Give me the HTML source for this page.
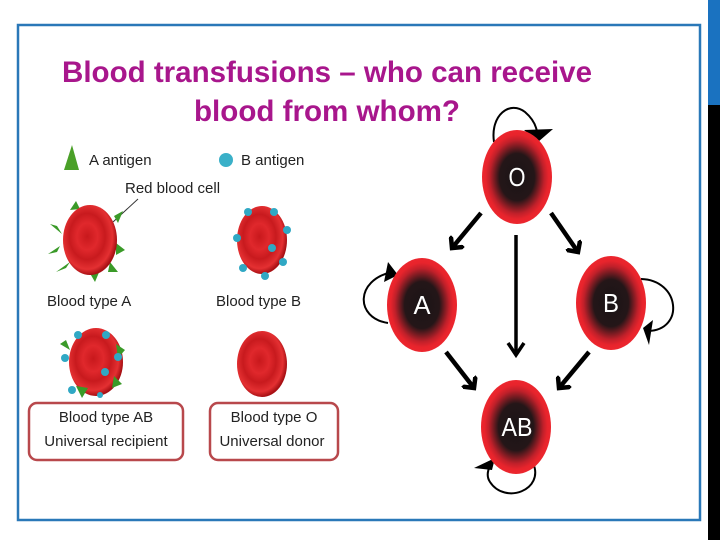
<!DOCTYPE html>
<html><head><meta charset="utf-8"><style>
body{margin:0;width:720px;height:540px;background:#fff;overflow:hidden;font-family:"Liberation Sans",sans-serif}
</style></head><body>
<svg width="720" height="540" viewBox="0 0 720 540" xmlns="http://www.w3.org/2000/svg">
<defs>
<radialGradient id="n" cx="50%" cy="50%" r="50%">
<stop offset="0" stop-color="#1a1416"/><stop offset="0.5" stop-color="#241618"/><stop offset="0.78" stop-color="#c0202a"/><stop offset="0.9" stop-color="#e8242c"/><stop offset="1" stop-color="#ec262e"/>
</radialGradient>
<radialGradient id="c" cx="45%" cy="45%" r="55%">
<stop offset="0" stop-color="#c8181c"/><stop offset="0.35" stop-color="#e0282c"/><stop offset="0.6" stop-color="#c81a1e"/><stop offset="0.85" stop-color="#e43032"/><stop offset="1" stop-color="#a81014"/>
</radialGradient>
<marker id="ah" markerWidth="4" markerHeight="4" refX="2" refY="2" orient="auto" markerUnits="strokeWidth">
<path d="M0,0 L2,2 L0,4" fill="none" stroke="#000" stroke-width="1"/>
</marker>
</defs>
<rect x="708" y="0" width="12" height="105" fill="#1a72c0"/>
<rect x="708" y="105" width="12" height="435" fill="#000"/>
<rect x="18" y="25" width="682" height="495" fill="#fff" stroke="#2a78b8" stroke-width="2.5"/>
<text x="327" y="82" text-anchor="middle" font-size="30" font-weight="bold" fill="#a8168c" textLength="530" lengthAdjust="spacingAndGlyphs">Blood transfusions – who can receive</text>
<text x="327" y="121" text-anchor="middle" font-size="30" font-weight="bold" fill="#a8168c" textLength="266" lengthAdjust="spacingAndGlyphs">blood from whom?</text>
<!-- legend -->
<polygon points="72,145 64,170 79,170" fill="#4aa028"/>
<text x="89" y="165" font-size="15" fill="#222">A antigen</text>
<circle cx="226" cy="160" r="7" fill="#3ab0c8"/>
<text x="241" y="165" font-size="15" fill="#222">B antigen</text>
<text x="125" y="193" font-size="15" fill="#222">Red blood cell</text>
<line x1="138" y1="199" x2="113" y2="222" stroke="#333" stroke-width="1"/>
<!-- cell A -->
<g fill="#3a9a28">
<polygon points="76,201 70,210 80,209"/><polygon points="123,211 114,216 118,223"/><polygon points="125,250 116,243 116,255"/><polygon points="118,272 110,262 108,272"/><polygon points="95,282 88,270 100,270"/><polygon points="66,268 56,272 70,262"/><polygon points="57,226 50,224 62,234"/><polygon points="57,252 48,254 60,246"/>
</g>
<ellipse cx="90" cy="240" rx="27" ry="35" fill="url(#c)"/>
<text x="47" y="306" font-size="15" fill="#222">Blood type A</text>
<!-- cell B -->
<ellipse cx="262" cy="240" rx="25" ry="34" fill="url(#c)"/>
<g fill="#30a8c4"><circle cx="274" cy="212" r="4"/><circle cx="287" cy="230" r="4"/><circle cx="272" cy="248" r="4"/><circle cx="283" cy="262" r="4"/><circle cx="265" cy="276" r="4"/><circle cx="243" cy="268" r="4"/><circle cx="237" cy="238" r="4"/><circle cx="248" cy="212" r="4"/></g>
<text x="216" y="306" font-size="15" fill="#222">Blood type B</text>
<!-- cell AB -->
<ellipse cx="96" cy="362" rx="27" ry="34" fill="url(#c)"/>
<g fill="#3a9a28"><polygon points="125,350 116,344 118,358"/><polygon points="122,384 114,376 112,388"/><polygon points="82,398 76,386 88,388"/><polygon points="66,340 60,344 70,350"/></g>
<g fill="#30a8c4"><circle cx="106" cy="335" r="4"/><circle cx="118" cy="357" r="4"/><circle cx="105" cy="372" r="4"/><circle cx="72" cy="390" r="4"/><circle cx="65" cy="358" r="4"/><circle cx="78" cy="335" r="4"/><circle cx="100" cy="395" r="3"/></g>
<!-- cell O -->
<ellipse cx="262" cy="364" rx="25" ry="33" fill="url(#c)"/>
<!-- boxes -->
<rect x="29" y="403" width="154" height="57" rx="8" fill="#fff" stroke="#b8484c" stroke-width="2.5"/>
<text x="106" y="422" text-anchor="middle" font-size="15" fill="#222">Blood type AB</text>
<text x="106" y="446" text-anchor="middle" font-size="15" fill="#222">Universal recipient</text>
<rect x="210" y="403" width="128" height="57" rx="8" fill="#fff" stroke="#b8484c" stroke-width="2.5"/>
<text x="274" y="422" text-anchor="middle" font-size="15" fill="#222">Blood type O</text>
<text x="272" y="446" text-anchor="middle" font-size="15" fill="#222">Universal donor</text>
<!-- arrows -->
<g stroke="#000" stroke-width="4.5" fill="none">
<line x1="481" y1="213" x2="452" y2="248" marker-end="url(#ah)"/>
<line x1="551" y1="213" x2="578" y2="252" marker-end="url(#ah)"/>
<line x1="446" y1="352" x2="474" y2="388" marker-end="url(#ah)"/>
<line x1="589" y1="352" x2="559" y2="388" marker-end="url(#ah)"/>
</g>
<line x1="516" y1="235" x2="516" y2="352" stroke="#000" stroke-width="3.5"/>
<path d="M508,343 L516,355 L524,343" fill="none" stroke="#000" stroke-width="3.5"/>
<g stroke="#000" stroke-width="2" fill="none">
<path d="M494,142 C490,115 510,100 525,112 C532,118 536,125 537,132"/>
<path d="M388,323 C355,318 355,280 392,272"/>
<path d="M641,279 C680,280 685,330 648,331"/>
<path d="M533,463 C545,490 505,505 490,482 C486,476 488,470 490,466"/>
</g>
<polygon points="524,130 553,129 538,142" fill="#000"/>
<polygon points="384,282 388,262 398,275" fill="#000"/>
<polygon points="643,328 653,320 649,345" fill="#000"/>
<polygon points="474,468 495,458 492,470" fill="#000"/>
<!-- nodes -->
<ellipse cx="517" cy="177" rx="35" ry="47" fill="url(#n)"/>
<ellipse cx="422" cy="305" rx="35" ry="47" fill="url(#n)"/>
<ellipse cx="611" cy="303" rx="35" ry="47" fill="url(#n)"/>
<ellipse cx="516" cy="427" rx="35" ry="47" fill="url(#n)"/>
<g fill="#fff" font-size="26" text-anchor="middle">
<text x="517" y="186" textLength="17" lengthAdjust="spacingAndGlyphs">O</text><text x="422" y="314" textLength="17" lengthAdjust="spacingAndGlyphs">A</text><text x="611" y="312" textLength="16" lengthAdjust="spacingAndGlyphs">B</text><text x="517" y="436" textLength="31" lengthAdjust="spacingAndGlyphs">AB</text>
</g>
</svg>
</body></html>
